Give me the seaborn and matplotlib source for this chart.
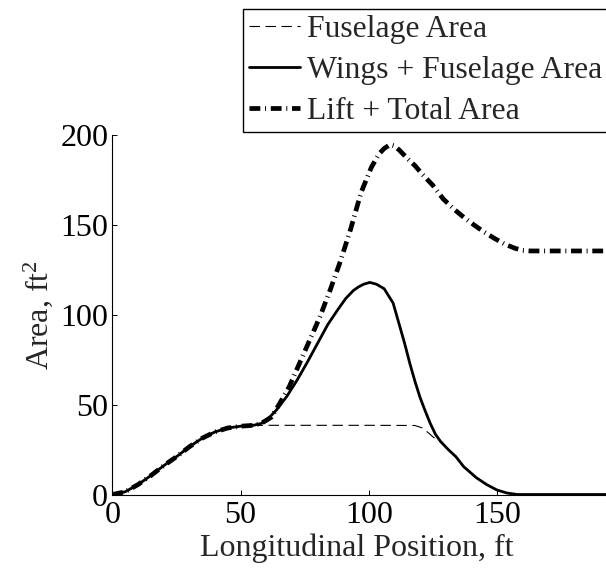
import matplotlib
matplotlib.use("Agg")
import matplotlib.pyplot as plt
import seaborn as sns
import pandas as pd

# ---- data ----
fus_x = [0, 5, 10, 15, 20, 25, 30, 35, 40, 45, 50, 55, 60, 80, 100, 118, 121, 123.5, 125.5,
         128, 131, 134, 137, 142, 146, 150, 154, 158, 192.5]
fus_y = [0, 1.5, 5.5, 10.5, 16, 21, 26.5, 31.3, 34.8, 37, 38, 38.4, 38.5, 38.5, 38.5, 38.4, 37, 34, 31.5,
         29.5, 25, 21, 15.5, 9.3, 5.5, 2.5, 0.8, 0, 0]

wing_x = [0, 5, 10, 15, 20, 25, 30, 35, 40, 45, 50, 55, 58, 61, 64, 68, 72, 76, 80, 84, 88, 91, 94, 96,
          98, 100.4, 103, 106, 109.5, 112, 114, 116, 118, 120, 122, 124, 126, 128, 131, 134, 137, 142,
          146, 150, 154, 158, 192.5]
wing_y = [0, 1.5, 5.5, 10.5, 16, 21, 26.5, 31.3, 34.8, 37, 38, 38.5, 39.5, 42.5, 47, 54.5, 63.5, 73.5,
          84, 94.5, 103, 109, 113.5, 115.5, 117, 118, 117, 114.5, 106.5, 94, 84, 73, 63, 54, 46.5, 39.5,
          33.5, 29.5, 25, 21, 15.5, 9.3, 5.5, 2.5, 0.8, 0, 0]

lift_x = [0, 5, 10, 15, 20, 25, 30, 35, 40, 45, 50, 55, 58, 62, 65, 69, 73, 77, 81, 85, 89, 93, 97,
          101, 104, 106, 108.3, 110, 112, 115, 118, 121, 125, 129, 133, 137, 141, 145, 149, 153, 157,
          160, 163, 192.5]
lift_y = [0, 1.5, 5.5, 10.5, 16, 21, 26.5, 31.3, 34.8, 37, 38, 38.5, 39.5, 43, 50, 60, 73, 86, 99, 114,
          130, 148, 168, 182, 189.5, 192.5, 194.7, 194, 191.5, 187, 183, 178, 172, 164.5, 159, 154.3,
          150, 146, 142.5, 139.3, 137, 135.8, 135.5, 135.5]

labels = ["Fuselage Area", "Wings + Fuselage Area", "Lift + Total Area"]
xticks = [0, 50, 100, 150]
yticks = [0, 50, 100, 150, 200]

sns.set_theme(style="ticks")
plt.rcParams["font.family"] = ["Liberation Serif", "DejaVu Serif"]
plt.rcParams["mathtext.fontset"] = "custom"
plt.rcParams["mathtext.rm"] = "Liberation Serif"
plt.rcParams["mathtext.it"] = "Liberation Serif:italic"
plt.rcParams["lines.scale_dashes"] = False
FS = 23
LFS = 22.8

fig = plt.figure(figsize=(6.06, 5.69), dpi=100)
ax = fig.add_axes([0.1853, 0.1309, 0.8147, 0.6318])

df_f = pd.DataFrame({"x": fus_x, "y": fus_y})
df_w = pd.DataFrame({"x": wing_x, "y": wing_y})
df_l = pd.DataFrame({"x": lift_x, "y": lift_y})

sns.lineplot(data=df_f, x="x", y="y", ax=ax, color="black", lw=0.8,
             linestyle=(0, (7.5, 4.0)), label=labels[0], zorder=3)
sns.lineplot(data=df_w, x="x", y="y", ax=ax, color="black", lw=2.0,
             linestyle="-", label=labels[1], zorder=2)
sns.lineplot(data=df_l, x="x", y="y", ax=ax, color="black", lw=3.4,
             linestyle=(0, (7.8, 3.4, 0.7, 3.4)), label=labels[2], zorder=1)

ax.set_xlim(0, 192.5)
ax.set_ylim(0, 200)
ax.set_xticks(xticks)
ax.set_yticks(yticks)
ax.tick_params(direction="in", length=3.6, width=0.7, labelsize=FS, colors="black")
ax.tick_params(axis="x", pad=5)
ax.tick_params(axis="y", pad=3)
for s in ["top", "right"]:
    ax.spines[s].set_visible(False)
for s in ["left", "bottom"]:
    ax.spines[s].set_linewidth(0.8)
    ax.spines[s].set_color("black")

ax.set_xlabel("Longitudinal Position, ft", fontsize=FS)
ax.set_ylabel("Area, ft$^2$", fontsize=FS)
ax.xaxis.set_label_coords(0.496, -0.149)
ax.xaxis.label.set_va("center")
ax.yaxis.set_label_coords(-0.150, 0.5)
ax.yaxis.label.set_va("center")

ax.get_legend().remove()
handles, labs = ax.get_legend_handles_labels()
leg = fig.legend(handles, labs, loc="upper left",
                 bbox_to_anchor=(243 / 606, 1 - 9 / 569),
                 fontsize=LFS, frameon=True, fancybox=False, shadow=False,
                 handlelength=1.6, handletextpad=0.22, labelspacing=0.36,
                 borderpad=0.2, borderaxespad=0.0)
fr = leg.get_frame()
fr.set_edgecolor("black")
fr.set_linewidth(1.0)
fr.set_facecolor("white")
fr.set_alpha(1.0)

fig.savefig("out.png", dpi=100)
